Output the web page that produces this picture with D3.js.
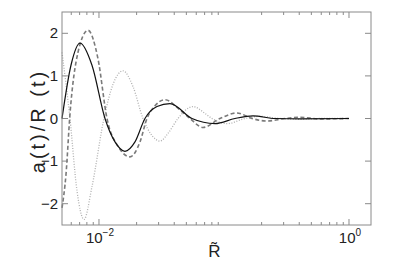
<!DOCTYPE html>
<html>
<head>
<meta charset="utf-8">
<script src="https://cdn.jsdelivr.net/npm/d3@7"></script>
<style>
  body { margin: 0; background: #fff; }
  text { font-family: "Liberation Sans", Arial, sans-serif; }
</style>
</head>
<body>
<div id="chart"></div>
<script>
// R~ values (x) and a(t)/R(t) for each curve
const solidR = [0.00506, 0.00597, 0.00705, 0.00879, 0.01117, 0.01343, 0.01614, 0.01941, 0.02333, 0.02911, 0.03698, 0.05546, 0.08472, 0.1225, 0.1706, 0.2559, 0.4055, 1.0];
const solidV = [0.0, 1.25, 1.77, 1.25, 0.0, -0.55, -0.77, -0.55, 0.0, 0.28, 0.35, 0.0, -0.12, 0.0, 0.06, 0.0, -0.01, 0.0];

const dashR = [0.00506, 0.00545, 0.00586, 0.00679, 0.00817, 0.00982, 0.01159, 0.01419, 0.0177, 0.02128, 0.02421, 0.02805, 0.03373, 0.04446, 0.05346, 0.06792, 0.0929, 0.1271, 0.1675, 0.2208, 0.3076, 0.4055, 0.5861, 1.0];
const dashV = [-2.1, -1.3, 0.1, 1.55, 2.07, 1.4, 0.0, -0.65, -0.9, -0.55, 0.0, 0.3, 0.44, 0.2, 0.0, -0.21, 0.0, 0.13, 0.0, -0.06, 0.0, 0.03, -0.01, 0.0];

const dotR = [0.00506, 0.00586, 0.00667, 0.00759, 0.00879, 0.01096, 0.01294, 0.01556, 0.01871, 0.02249, 0.02655, 0.03076, 0.03565, 0.04285, 0.05649, 0.07047, 0.08017, 0.1057, 0.1472, 0.1941, 0.2805, 0.4055, 0.5861, 1.0];
const dotV = [1.55, 0.0, -1.7, -2.37, -1.6, 0.0, 0.8, 1.12, 0.75, 0.0, -0.4, -0.53, -0.35, 0.0, 0.28, 0.12, 0.0, -0.12, 0.0, 0.05, 0.0, -0.02, 0.0, 0.0];

const yTicks = [-2, -1, 0, 1, 2];
const xTicks = [0.01, 1];

const width = 399, height = 263;
const margin = {top: 12, right: 28, bottom: 38, left: 62};

const svg = d3.select("#chart").append("svg")
    .attr("width", width)
    .attr("height", height);

const x = d3.scaleLog()
    .domain([0.00506, 1.5])
    .range([margin.left, width - margin.right]);

const y = d3.scaleLinear()
    .domain([-2.5, 2.5])
    .range([height - margin.bottom, margin.top]);

const x0 = margin.left, x1 = width - margin.right;
const y0 = height - margin.bottom, y1 = margin.top;

// minor ticks for the log axis
const minorTicks = [];
for (let e = -3; e <= 0; e++) {
    for (let k = 2; k <= 9; k++) {
        const v = k * Math.pow(10, e);
        if (v > x.domain()[0] && v < x.domain()[1]) minorTicks.push(v);
    }
}

const tickColor = "#8a8a8a";
const ticks = svg.append("g").attr("stroke", tickColor).attr("stroke-width", 1);

minorTicks.forEach(v => {
    ticks.append("line").attr("x1", x(v)).attr("x2", x(v)).attr("y1", y0).attr("y2", y0 - 3);
    ticks.append("line").attr("x1", x(v)).attr("x2", x(v)).attr("y1", y1).attr("y2", y1 + 3);
});
xTicks.forEach(v => {
    ticks.append("line").attr("x1", x(v)).attr("x2", x(v)).attr("y1", y0).attr("y2", y0 - 6);
    ticks.append("line").attr("x1", x(v)).attr("x2", x(v)).attr("y1", y1).attr("y2", y1 + 6);
});
yTicks.forEach(v => {
    ticks.append("line").attr("x1", x0).attr("x2", x0 + 6).attr("y1", y(v)).attr("y2", y(v));
    ticks.append("line").attr("x1", x1).attr("x2", x1 - 6).attr("y1", y(v)).attr("y2", y(v));
});

// curves
const line = d3.line()
    .x(d => x(d[0]))
    .y(d => y(d[1]))
    .curve(d3.curveMonotoneX);

const plot = svg.append("g");

plot.append("path")
    .datum(d3.zip(dotR, dotV))
    .attr("d", line)
    .attr("fill", "none")
    .attr("stroke", "#b0b0b0")
    .attr("stroke-width", 1.3)
    .attr("stroke-dasharray", "1,1.6");

plot.append("path")
    .datum(d3.zip(dashR, dashV))
    .attr("d", line)
    .attr("fill", "none")
    .attr("stroke", "#7a7a7a")
    .attr("stroke-width", 1.6)
    .attr("stroke-dasharray", "4,2.5");

plot.append("path")
    .datum(d3.zip(solidR, solidV))
    .attr("d", line)
    .attr("fill", "none")
    .attr("stroke", "#111")
    .attr("stroke-width", 1.2);

// frame
svg.append("rect")
    .attr("x", x0).attr("y", y1)
    .attr("width", x1 - x0).attr("height", y0 - y1)
    .attr("fill", "none")
    .attr("stroke", tickColor)
    .attr("stroke-width", 1);

// tick labels
yTicks.forEach(v => {
    svg.append("text")
        .attr("x", x0 - 4)
        .attr("y", y(v) + 5)
        .attr("text-anchor", "end")
        .attr("font-size", 15)
        .attr("fill", "#222")
        .text(v < 0 ? "\u2212" + Math.abs(v) : v);
});

xTicks.forEach(v => {
    const p = Math.round(Math.log10(v));
    const t = svg.append("text")
        .attr("x", x(v) + 1)
        .attr("y", y0 + 18)
        .attr("text-anchor", "middle")
        .attr("font-size", 15)
        .attr("fill", "#222");
    t.append("tspan").text("10");
    t.append("tspan")
        .attr("font-size", 10)
        .attr("dy", -7)
        .text(p < 0 ? "\u2212" + Math.abs(p) : p);
});

// axis labels
svg.append("text")
    .attr("x", (x0 + x1) / 2 - 2)
    .attr("y", y0 + 32)
    .attr("text-anchor", "middle")
    .attr("font-size", 17)
    .attr("fill", "#222")
    .text("R\u0303");

svg.append("text")
    .attr("transform", `translate(45,121) rotate(-90)`)
    .attr("text-anchor", "middle")
    .attr("font-size", 20)
    .attr("letter-spacing", 3)
    .attr("fill", "#222")
    .text("a(t)/R (t)");
</script>
</body>
</html>
